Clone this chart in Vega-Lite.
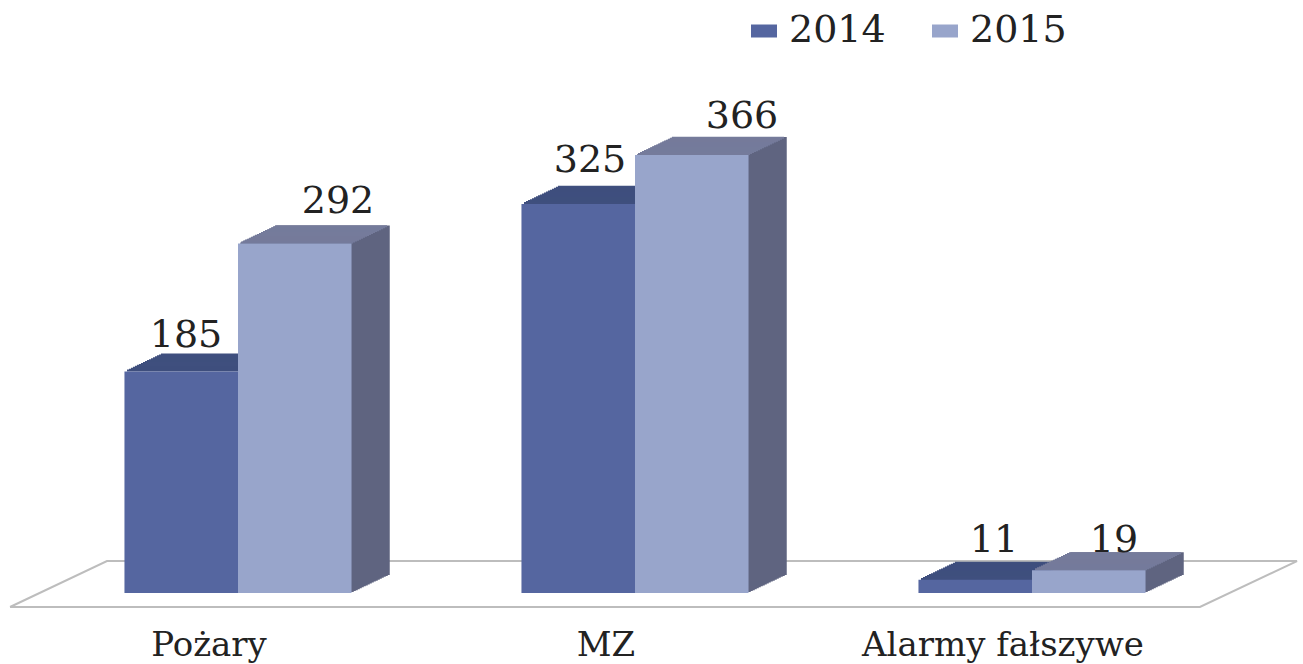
{"$schema":"https://vega.github.io/schema/vega-lite/v6.json","width":1303,"height":593,"padding":{"left":0,"top":0,"right":0,"bottom":71},"autosize":"none","background":"white","datasets":{"d":[{"cat":"Pożary","year":"2014","value":185},{"cat":"Pożary","year":"2015","value":292},{"cat":"MZ","year":"2014","value":325},{"cat":"MZ","year":"2015","value":366},{"cat":"Alarmy fałszywe","year":"2014","value":11},{"cat":"Alarmy fałszywe","year":"2015","value":19}],"floor":[{"i":0,"fx":0.0077,"fy":-11.7},{"i":1,"fx":0.9209,"fy":-11.7},{"i":2,"fx":0.9954,"fy":26.7},{"i":3,"fx":0.0821,"fy":26.7},{"i":4,"fx":0.0077,"fy":-11.7}]},"data":{"name":"d"},"config":{"view":{"stroke":null},"style":{"s":{"color":"#5f6480"},"a":{"color":"#3f4f7e","stroke":"#3f4f7e","strokeWidth":2},"b":{"color":"#757b9b","stroke":"#757b9b","strokeWidth":2},"lab":{"font":"DejaVu Serif","fontSize":38,"color":"#222222","baseline":"middle","align":"center"}}},"layer":[{"data":{"name":"floor"},"mark":{"type":"line","color":"#bdbdbd","strokeWidth":2},"encoding":{"x":{"field":"fx","type":"quantitative","scale":{"domain":[0,1],"nice":false,"zero":false},"axis":null},"y":{"field":"fy","type":"quantitative","scale":{"domain":[0,495.4],"nice":false,"clamp":false},"axis":null},"order":{"field":"i","type":"ordinal"}}},{"encoding":{"x":{"field":"cat","type":"nominal","sort":["Pożary","MZ","Alarmy fałszywe"],"scale":{"range":[39.5,1230.5],"paddingInner":0.428,"paddingOuter":0.214},"axis":{"title":null,"domain":false,"ticks":false,"labelAngle":0,"labelOffset":-29,"labelPadding":35,"labelLimit":600,"labelFont":"DejaVu Serif","labelFontSize":34,"labelColor":"#222222"}},"y":{"field":"value","type":"quantitative","scale":{"domain":[0,495.4],"nice":false},"axis":null}},"layer":[{"transform":[{"filter":"datum.year=='2015'"}],"layer":[{"mark":{"type":"bar","style":"s","width":113.5,"xOffset":59,"yOffset":-0.95}},{"mark":{"type":"bar","style":"s","width":113.5,"xOffset":61,"yOffset":-1.9}},{"mark":{"type":"bar","style":"s","width":113.5,"xOffset":63,"yOffset":-2.85}},{"mark":{"type":"bar","style":"s","width":113.5,"xOffset":65,"yOffset":-3.8}},{"mark":{"type":"bar","style":"s","width":113.5,"xOffset":67,"yOffset":-4.75}},{"mark":{"type":"bar","style":"s","width":113.5,"xOffset":69,"yOffset":-5.7}},{"mark":{"type":"bar","style":"s","width":113.5,"xOffset":71,"yOffset":-6.65}},{"mark":{"type":"bar","style":"s","width":113.5,"xOffset":73,"yOffset":-7.6}},{"mark":{"type":"bar","style":"s","width":113.5,"xOffset":75,"yOffset":-8.55}},{"mark":{"type":"bar","style":"s","width":113.5,"xOffset":77,"yOffset":-9.5}},{"mark":{"type":"bar","style":"s","width":113.5,"xOffset":79,"yOffset":-10.45}},{"mark":{"type":"bar","style":"s","width":113.5,"xOffset":81,"yOffset":-11.4}},{"mark":{"type":"bar","style":"s","width":113.5,"xOffset":83,"yOffset":-12.35}},{"mark":{"type":"bar","style":"s","width":113.5,"xOffset":85,"yOffset":-13.3}},{"mark":{"type":"bar","style":"s","width":113.5,"xOffset":87,"yOffset":-14.25}},{"mark":{"type":"bar","style":"s","width":113.5,"xOffset":89,"yOffset":-15.2}},{"mark":{"type":"bar","style":"s","width":113.5,"xOffset":91,"yOffset":-16.15}},{"mark":{"type":"bar","style":"s","width":113.5,"xOffset":93,"yOffset":-17.1}},{"mark":{"type":"bar","style":"s","width":113.5,"xOffset":95,"yOffset":-18}}]},{"transform":[{"filter":"datum.year=='2014'"}],"encoding":{"y2":{"field":"value"}},"layer":[{"mark":{"type":"bar","style":"a","width":112,"xOffset":-55,"yOffset":-0.95,"y2Offset":-0.95}},{"mark":{"type":"bar","style":"a","width":112,"xOffset":-53,"yOffset":-1.9,"y2Offset":-1.9}},{"mark":{"type":"bar","style":"a","width":112,"xOffset":-51,"yOffset":-2.85,"y2Offset":-2.85}},{"mark":{"type":"bar","style":"a","width":112,"xOffset":-49,"yOffset":-3.8,"y2Offset":-3.8}},{"mark":{"type":"bar","style":"a","width":112,"xOffset":-47,"yOffset":-4.75,"y2Offset":-4.75}},{"mark":{"type":"bar","style":"a","width":112,"xOffset":-45,"yOffset":-5.7,"y2Offset":-5.7}},{"mark":{"type":"bar","style":"a","width":112,"xOffset":-43,"yOffset":-6.65,"y2Offset":-6.65}},{"mark":{"type":"bar","style":"a","width":112,"xOffset":-41,"yOffset":-7.6,"y2Offset":-7.6}},{"mark":{"type":"bar","style":"a","width":112,"xOffset":-39,"yOffset":-8.55,"y2Offset":-8.55}},{"mark":{"type":"bar","style":"a","width":112,"xOffset":-37,"yOffset":-9.5,"y2Offset":-9.5}},{"mark":{"type":"bar","style":"a","width":112,"xOffset":-35,"yOffset":-10.45,"y2Offset":-10.45}},{"mark":{"type":"bar","style":"a","width":112,"xOffset":-33,"yOffset":-11.4,"y2Offset":-11.4}},{"mark":{"type":"bar","style":"a","width":112,"xOffset":-31,"yOffset":-12.35,"y2Offset":-12.35}},{"mark":{"type":"bar","style":"a","width":112,"xOffset":-29,"yOffset":-13.3,"y2Offset":-13.3}},{"mark":{"type":"bar","style":"a","width":112,"xOffset":-27,"yOffset":-14.25,"y2Offset":-14.25}},{"mark":{"type":"bar","style":"a","width":112,"xOffset":-25,"yOffset":-15.2,"y2Offset":-15.2}},{"mark":{"type":"bar","style":"a","width":112,"xOffset":-23,"yOffset":-16.15,"y2Offset":-16.15}},{"mark":{"type":"bar","style":"a","width":112,"xOffset":-21,"yOffset":-17.1,"y2Offset":-17.1}}]},{"transform":[{"filter":"datum.year=='2015'"}],"encoding":{"y2":{"field":"value"}},"layer":[{"mark":{"type":"bar","style":"b","width":112,"xOffset":59,"yOffset":-0.95,"y2Offset":-0.95}},{"mark":{"type":"bar","style":"b","width":112,"xOffset":61,"yOffset":-1.9,"y2Offset":-1.9}},{"mark":{"type":"bar","style":"b","width":112,"xOffset":63,"yOffset":-2.85,"y2Offset":-2.85}},{"mark":{"type":"bar","style":"b","width":112,"xOffset":65,"yOffset":-3.8,"y2Offset":-3.8}},{"mark":{"type":"bar","style":"b","width":112,"xOffset":67,"yOffset":-4.75,"y2Offset":-4.75}},{"mark":{"type":"bar","style":"b","width":112,"xOffset":69,"yOffset":-5.7,"y2Offset":-5.7}},{"mark":{"type":"bar","style":"b","width":112,"xOffset":71,"yOffset":-6.65,"y2Offset":-6.65}},{"mark":{"type":"bar","style":"b","width":112,"xOffset":73,"yOffset":-7.6,"y2Offset":-7.6}},{"mark":{"type":"bar","style":"b","width":112,"xOffset":75,"yOffset":-8.55,"y2Offset":-8.55}},{"mark":{"type":"bar","style":"b","width":112,"xOffset":77,"yOffset":-9.5,"y2Offset":-9.5}},{"mark":{"type":"bar","style":"b","width":112,"xOffset":79,"yOffset":-10.45,"y2Offset":-10.45}},{"mark":{"type":"bar","style":"b","width":112,"xOffset":81,"yOffset":-11.4,"y2Offset":-11.4}},{"mark":{"type":"bar","style":"b","width":112,"xOffset":83,"yOffset":-12.35,"y2Offset":-12.35}},{"mark":{"type":"bar","style":"b","width":112,"xOffset":85,"yOffset":-13.3,"y2Offset":-13.3}},{"mark":{"type":"bar","style":"b","width":112,"xOffset":87,"yOffset":-14.25,"y2Offset":-14.25}},{"mark":{"type":"bar","style":"b","width":112,"xOffset":89,"yOffset":-15.2,"y2Offset":-15.2}},{"mark":{"type":"bar","style":"b","width":112,"xOffset":91,"yOffset":-16.15,"y2Offset":-16.15}},{"mark":{"type":"bar","style":"b","width":112,"xOffset":93,"yOffset":-17.1,"y2Offset":-17.1}}]},{"mark":{"type":"bar"},"encoding":{"xOffset":{"field":"year","type":"nominal","scale":{"domain":["2014","2015"],"paddingInner":0,"paddingOuter":0}},"color":{"field":"year","type":"nominal","scale":{"domain":["2014","2015"],"range":["#5566a0","#98a5cb"]},"legend":{"title":null,"orient":"none","legendX":745,"legendY":12,"direction":"horizontal","symbolType":"M-1,-0.5H1V0.5H-1Z","symbolSize":676,"symbolOpacity":1,"labelFont":"DejaVu Serif","labelFontSize":38,"labelColor":"#222222","columnPadding":40,"labelOffset":6}}}},{"transform":[{"filter":"datum.value==185"}],"mark":{"type":"text","style":"lab","dx":-52,"dy":-36},"encoding":{"text":{"field":"value"}}},{"transform":[{"filter":"datum.value==292"}],"mark":{"type":"text","style":"lab","dx":100,"dy":-41},"encoding":{"text":{"field":"value"}}},{"transform":[{"filter":"datum.value==325"}],"mark":{"type":"text","style":"lab","dx":-45,"dy":-43},"encoding":{"text":{"field":"value"}}},{"transform":[{"filter":"datum.value==366"}],"mark":{"type":"text","style":"lab","dx":107,"dy":-38},"encoding":{"text":{"field":"value"}}},{"transform":[{"filter":"datum.value==11"}],"mark":{"type":"text","style":"lab","dx":-38,"dy":-39},"encoding":{"text":{"field":"value"}}},{"transform":[{"filter":"datum.value==19"}],"mark":{"type":"text","style":"lab","dx":82,"dy":-29},"encoding":{"text":{"field":"value"}}}]}],"resolve":{"scale":{"x":"independent"}}}
